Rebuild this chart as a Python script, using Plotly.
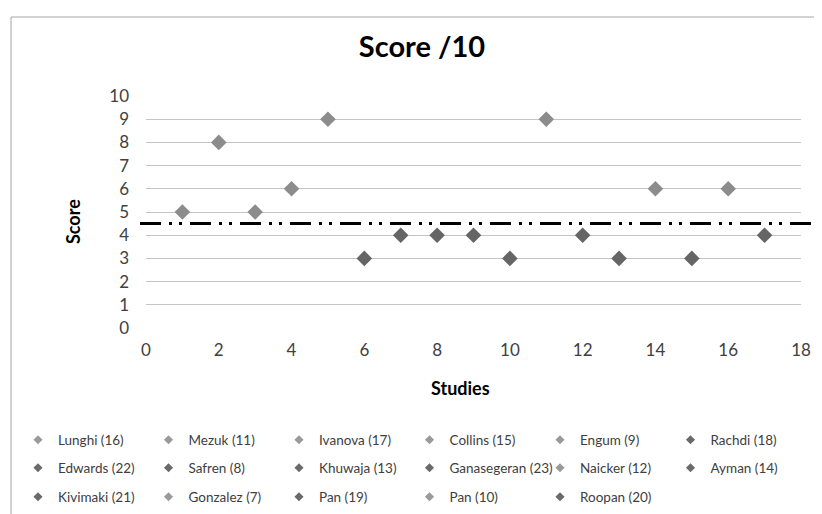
import plotly.graph_objects as go

# ---- data ----
studies = ["Lunghi (16)", "Mezuk (11)", "Ivanova (17)", "Collins (15)", "Engum (9)", "Rachdi (18)",
           "Edwards (22)", "Safren (8)", "Khuwaja (13)", "Ganasegeran (23)", "Naicker (12)", "Ayman (14)",
           "Kivimaki (21)", "Gonzalez (7)", "Pan (19)", "Pan (10)", "Roopan (20)"]
study_index = list(range(1, 18))
scores = [5, 8, 5, 6, 9, 3, 4, 4, 4, 3, 9, 4, 3, 6, 3, 6, 4]
threshold = 4.5
x_ticks = [0, 2, 4, 6, 8, 10, 12, 14, 16, 18]
y_ticks = list(range(0, 11))

LIGHT = "#8c8c8c"
DARK = "#656565"
LEG_LIGHT = "#9a9a9a"
LEG_DARK = "#6a6a6a"
FONT = "Lato"

# the page body adds an 8px margin around the figure
OFF = 8
W, H = 822, 514
# target plot area on screen: x 146..801, y 96..328
ML = 146 - OFF
MR = W - (801 - OFF)
MT = 96 - OFF
MB = H - (328 - OFF)
PW = W - ML - MR
PH = H - MT - MB


def sx(px):
    """screen x pixel -> paper x"""
    return (px - OFF - ML) / PW


def sy(py):
    """screen y pixel -> paper y"""
    return (H - MB - (py - OFF)) / PH


fig = go.Figure()

legend_names = ["legend", "legend2", "legend3"]
for i, (name, xi, yi) in enumerate(zip(studies, study_index, scores)):
    col = LIGHT if yi >= 5 else DARK
    lcol = LEG_LIGHT if yi >= 5 else LEG_DARK
    grp = f"s{i}"
    fig.add_trace(go.Scatter(
        x=[xi], y=[yi], mode="markers", name=name, legendgroup=grp, showlegend=False,
        marker=dict(symbol="diamond", size=12, color=col),
        hovertemplate=f"{name}<br>Study %{{x}}<br>Score %{{y}}<extra></extra>",
    ))
    fig.add_trace(go.Scatter(
        x=[None], y=[None], mode="markers", name=name, legendgroup=grp, showlegend=True,
        legend=legend_names[i // 6],
        marker=dict(symbol="diamond", size=7, color=lcol),
    ))

# threshold line (long dash - dot - dot)
fig.add_shape(type="line", xref="paper", yref="y",
              x0=sx(140), x1=sx(816), y0=threshold, y1=threshold,
              line=dict(color="black", width=3, dash="21px,8px,3px,7px,3px,8px"))

# chart frame (top and left edges visible)
fig.add_shape(type="line", xref="paper", yref="paper",
              x0=sx(11), x1=sx(840), y0=sy(17), y1=sy(17),
              line=dict(color="#a6a6a6", width=1))
fig.add_shape(type="line", xref="paper", yref="paper",
              x0=sx(11), x1=sx(11), y0=sy(17), y1=sy(540),
              line=dict(color="#a6a6a6", width=1))

# axis titles placed as in the reference
fig.add_annotation(text="<b>Studies</b>", xref="paper", yref="paper",
                   x=sx(460), y=sy(388), showarrow=False,
                   xanchor="center", yanchor="middle",
                   font=dict(family=FONT, size=18, color="black"))
fig.add_annotation(text="<b>Score</b>", xref="paper", yref="paper", textangle=-90,
                   x=sx(73), y=sy(222), showarrow=False,
                   xanchor="center", yanchor="middle",
                   font=dict(family=FONT, size=18, color="black"))

leg_common = dict(orientation="h", xanchor="left", yanchor="middle",
                  font=dict(family=FONT, size=13.5, color="#404040"),
                  entrywidth=85.5, entrywidthmode="pixels",
                  bgcolor="rgba(0,0,0,0)", itemclick=False, itemdoubleclick=False)

fig.update_layout(
    width=W, height=H,
    margin=dict(l=ML, r=MR, t=MT, b=MB, autoexpand=False),
    paper_bgcolor="white", plot_bgcolor="white",
    font=dict(family=FONT, color="#404040"),
    title=dict(text="<b>Score /10</b>", x=sx(422), xref="paper", xanchor="center",
               y=1 - (47 - OFF) / H, yref="container", yanchor="middle",
               font=dict(family=FONT, size=29, color="black")),
    xaxis=dict(range=[0, 18], tickvals=x_ticks, showgrid=False, zeroline=False, showline=False,
               ticks="", ticklabelstandoff=10, automargin=False,
               tickfont=dict(family=FONT, size=17, color="#404040")),
    yaxis=dict(range=[0, 10], tickvals=y_ticks, showgrid=True, gridcolor="#c4c4c4", gridwidth=1.3,
               zeroline=False, showline=False, ticks="", ticklabelstandoff=16, automargin=False,
               tickfont=dict(family=FONT, size=17, color="#404040")),
    legend=dict(x=sx(18), y=sy(440), **leg_common),
    legend2=dict(x=sx(18), y=sy(468), **leg_common),
    legend3=dict(x=sx(18), y=sy(497), **leg_common),
    showlegend=True,
)

fig.write_html("out.html")
